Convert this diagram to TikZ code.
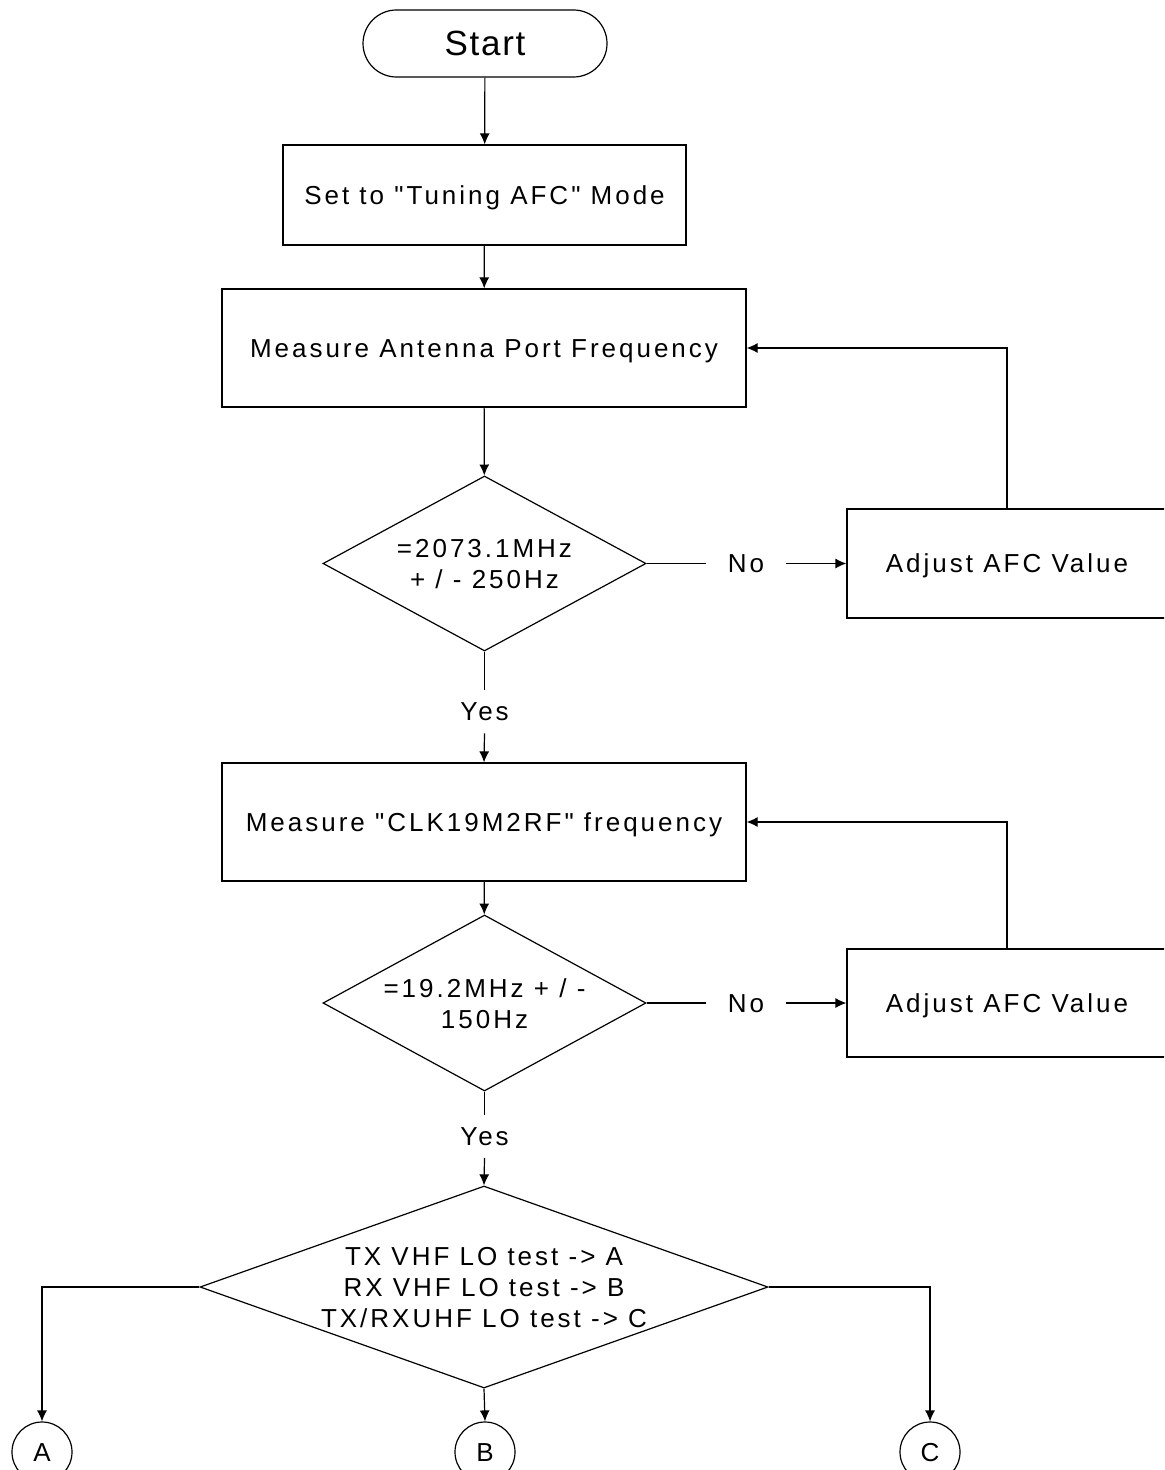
\documentclass[tikz,border=0pt]{standalone}
\usepackage{fontspec}
\setmainfont{Liberation Sans}[LetterSpace=11.5, Ligatures=TeXOff]
\usetikzlibrary{shapes.geometric, arrows.meta}

\begin{document}
\begin{tikzpicture}[x=0.5pt, y=-0.5pt,
  every node/.style={font=\fontsize{13pt}{15.5pt}\selectfont, inner sep=0pt},
  line/.style={line width=0.6pt},
  arr/.style={line, -{Latex[length=5.5pt,width=5pt]}},
  terminal/.style={draw, line width=0.6pt, rounded corners=16.75pt,
    minimum width=122pt, minimum height=33.5pt,
    font=\fontsize{17.5pt}{20pt}\selectfont\addfontfeature{LetterSpace=5},
    text height=12.5pt, text depth=0pt},
  procbox/.style={draw, line width=0.6pt, text height=9.3pt, text depth=0pt},
  decision/.style={draw, diamond, line width=0.6pt, inner sep=0pt},
  dtext/.style={align=center},
  branch/.style={text height=9.3pt, text depth=0pt},
  connector/.style={draw, circle, line width=0.6pt, minimum size=30pt,
    text height=9.3pt, text depth=0pt}]

\useasboundingbox (0,0) rectangle (1164,1470);
\clip (0,0) rectangle (1164,1470);

% main column
\node[terminal] (start) at (485,43.5) {Start};
\node[procbox, minimum width=201.5pt, minimum height=50pt] (tune) at (484.5,195)
  {Set to "Tuning AFC" Mode};
\node[procbox, minimum width=262pt, minimum height=59pt] (antenna) at (484,348)
  {Measure Antenna Port Frequency};
\node[decision, minimum width=161.5pt, minimum height=87.5pt] (chk1) at (484.5,563.5) {};
\node[dtext] (chk1t) at (484.5,564) {=2073.1MHz\\+ / - 250Hz};
\node[procbox, minimum width=160pt, minimum height=54.5pt] (adj1) at (1007,563.5)
  {Adjust AFC Value};
\node[branch, minimum width=40pt] (no1) at (746,563.5) {No};
\node[branch, minimum height=21.5pt] (yes1) at (484.5,711.5) {Yes};

\node[procbox, minimum width=262pt, minimum height=59pt] (clk) at (484,822)
  {Measure "CLK19M2RF" frequency};
\node[decision, minimum width=161.5pt, minimum height=88pt] (chk2) at (484.5,1003) {};
\node[dtext] (chk2t) at (484.5,1003.5) {=19.2MHz + / -\\150Hz};
\node[procbox, minimum width=160pt, minimum height=54pt] (adj2) at (1007,1003)
  {Adjust AFC Value};
\node[branch, minimum width=40pt] (no2) at (746,1003) {No};
\node[branch, minimum height=21pt] (yes2) at (484.5,1136.5) {Yes};

\node[decision, minimum width=284pt, minimum height=101pt] (sel) at (484,1287) {};
\node[dtext] (selt) at (484,1287.5) {TX VHF LO test -> A\\RX VHF LO test -> B\\TX/RXUHF LO test -> C};

\node[connector] (ca) at (42,1452) {A};
\node[connector] (cb) at (485,1452) {B};
\node[connector] (cc) at (930,1452) {C};

% connectors
\draw[arr] (start) -- (tune);
\draw[arr] (tune) -- (antenna);
\draw[arr] (antenna) -- (chk1);
\draw[line] (chk1.east) -- (no1.west);
\draw[arr] (no1.east) -- (adj1.west);
\draw[arr] (adj1.north) |- (antenna.east);
\draw[line] (chk1.south) -- (yes1.north);
\draw[arr] (yes1.south) -- (clk.north);
\draw[arr] (clk) -- (chk2);
\draw[line] (chk2.east) -- (no2.west);
\draw[arr] (no2.east) -- (adj2.west);
\draw[arr] (adj2.north) |- (clk.east);
\draw[line] (chk2.south) -- (yes2.north);
\draw[arr] (yes2.south) -- (sel.north);
\draw[arr] (sel.west) -| (ca.north);
\draw[arr] (sel.south) -- (cb.north);
\draw[arr] (sel.east) -| (cc.north);
\end{tikzpicture}
\end{document}
